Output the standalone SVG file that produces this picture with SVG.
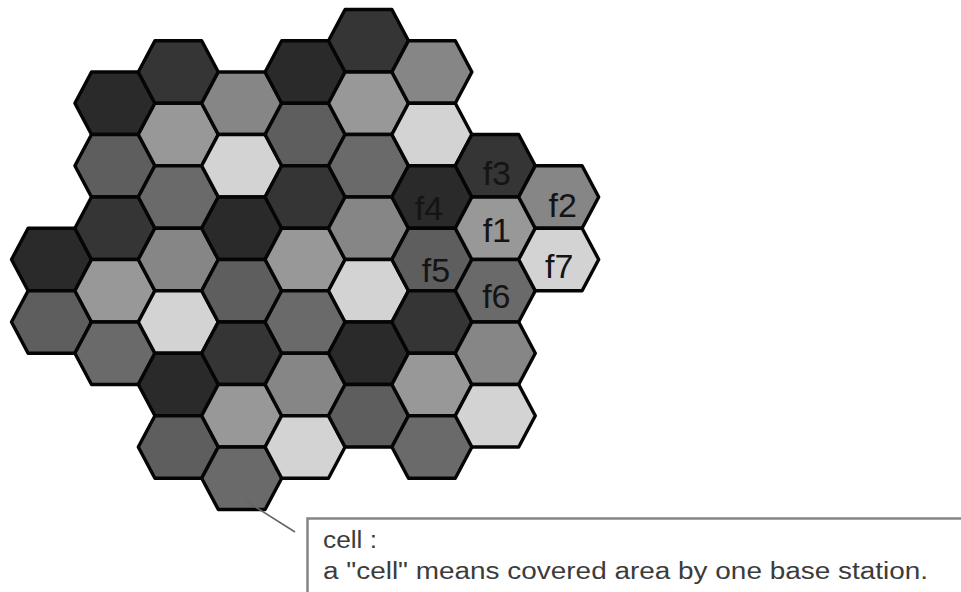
<svg xmlns="http://www.w3.org/2000/svg" xmlns:xlink="http://www.w3.org/1999/xlink" width="961" height="592" viewBox="0 0 961 592">
<style>
.h{stroke:#050505;stroke-width:3.4;stroke-linejoin:round}
.f1{fill:#989898}.f2{fill:#868686}.f3{fill:#353535}.f4{fill:#2a2a2a}
.f5{fill:#5e5e5e}.f6{fill:#6a6a6a}.f7{fill:#d3d3d3}
.lbl{font-family:"Liberation Sans",Arial,sans-serif;font-size:34px;fill:#141414;text-anchor:middle}
.note{font-family:"Liberation Sans",Arial,sans-serif;font-size:23px;fill:#3c3c3c}
</style>
<defs>
<polygon id="hex" points="-40,0 -23.4,-31.25 23.4,-31.25 40,0 23.4,31.25 -23.4,31.25"/>
</defs>
<rect width="961" height="592" fill="#fff"/>
<g id="cells">
<g id="c0k7" transform="translate(51.5,259.5)"><use xlink:href="#hex" class="h f4"/></g>
<g id="c0k9" transform="translate(51.5,322)"><use xlink:href="#hex" class="h f5"/></g>
<g id="c1k2" transform="translate(114.9,103.25)"><use xlink:href="#hex" class="h f4"/></g>
<g id="c1k4" transform="translate(114.9,165.75)"><use xlink:href="#hex" class="h f5"/></g>
<g id="c1k6" transform="translate(114.9,228.25)"><use xlink:href="#hex" class="h f3"/></g>
<g id="c1k8" transform="translate(114.9,290.75)"><use xlink:href="#hex" class="h f1"/></g>
<g id="c1k10" transform="translate(114.9,353.25)"><use xlink:href="#hex" class="h f6"/></g>
<g id="c2k1" transform="translate(178.3,72)"><use xlink:href="#hex" class="h f3"/></g>
<g id="c2k3" transform="translate(178.3,134.5)"><use xlink:href="#hex" class="h f1"/></g>
<g id="c2k5" transform="translate(178.3,197)"><use xlink:href="#hex" class="h f6"/></g>
<g id="c2k7" transform="translate(178.3,259.5)"><use xlink:href="#hex" class="h f2"/></g>
<g id="c2k9" transform="translate(178.3,322)"><use xlink:href="#hex" class="h f7"/></g>
<g id="c2k11" transform="translate(178.3,384.5)"><use xlink:href="#hex" class="h f4"/></g>
<g id="c2k13" transform="translate(178.3,447)"><use xlink:href="#hex" class="h f5"/></g>
<g id="c3k2" transform="translate(241.7,103.25)"><use xlink:href="#hex" class="h f2"/></g>
<g id="c3k4" transform="translate(241.7,165.75)"><use xlink:href="#hex" class="h f7"/></g>
<g id="c3k6" transform="translate(241.7,228.25)"><use xlink:href="#hex" class="h f4"/></g>
<g id="c3k8" transform="translate(241.7,290.75)"><use xlink:href="#hex" class="h f5"/></g>
<g id="c3k10" transform="translate(241.7,353.25)"><use xlink:href="#hex" class="h f3"/></g>
<g id="c3k12" transform="translate(241.7,415.75)"><use xlink:href="#hex" class="h f1"/></g>
<g id="c3k14" transform="translate(241.7,478.25)"><use xlink:href="#hex" class="h f6"/></g>
<g id="c4k1" transform="translate(305.1,72)"><use xlink:href="#hex" class="h f4"/></g>
<g id="c4k3" transform="translate(305.1,134.5)"><use xlink:href="#hex" class="h f5"/></g>
<g id="c4k5" transform="translate(305.1,197)"><use xlink:href="#hex" class="h f3"/></g>
<g id="c4k7" transform="translate(305.1,259.5)"><use xlink:href="#hex" class="h f1"/></g>
<g id="c4k9" transform="translate(305.1,322)"><use xlink:href="#hex" class="h f6"/></g>
<g id="c4k11" transform="translate(305.1,384.5)"><use xlink:href="#hex" class="h f2"/></g>
<g id="c4k13" transform="translate(305.1,447)"><use xlink:href="#hex" class="h f7"/></g>
<g id="c5k0" transform="translate(368.5,40.75)"><use xlink:href="#hex" class="h f3"/></g>
<g id="c5k2" transform="translate(368.5,103.25)"><use xlink:href="#hex" class="h f1"/></g>
<g id="c5k4" transform="translate(368.5,165.75)"><use xlink:href="#hex" class="h f6"/></g>
<g id="c5k6" transform="translate(368.5,228.25)"><use xlink:href="#hex" class="h f2"/></g>
<g id="c5k8" transform="translate(368.5,290.75)"><use xlink:href="#hex" class="h f7"/></g>
<g id="c5k10" transform="translate(368.5,353.25)"><use xlink:href="#hex" class="h f4"/></g>
<g id="c5k12" transform="translate(368.5,415.75)"><use xlink:href="#hex" class="h f5"/></g>
<g id="c6k1" transform="translate(431.9,72)"><use xlink:href="#hex" class="h f2"/></g>
<g id="c6k3" transform="translate(431.9,134.5)"><use xlink:href="#hex" class="h f7"/></g>
<g id="c6k5" transform="translate(431.9,197)"><use xlink:href="#hex" class="h f4"/><text class="lbl" x="-3" y="23">f4</text></g>
<g id="c6k7" transform="translate(431.9,259.5)"><use xlink:href="#hex" class="h f5"/><text class="lbl" x="4" y="22.5">f5</text></g>
<g id="c6k9" transform="translate(431.9,322)"><use xlink:href="#hex" class="h f3"/></g>
<g id="c6k11" transform="translate(431.9,384.5)"><use xlink:href="#hex" class="h f1"/></g>
<g id="c6k13" transform="translate(431.9,447)"><use xlink:href="#hex" class="h f6"/></g>
<g id="c7k4" transform="translate(495.3,165.75)"><use xlink:href="#hex" class="h f3"/><text class="lbl" x="1.5" y="19.5">f3</text></g>
<g id="c7k6" transform="translate(495.3,228.25)"><use xlink:href="#hex" class="h f1"/><text class="lbl" x="1.5" y="13.5">f1</text></g>
<g id="c7k8" transform="translate(495.3,290.75)"><use xlink:href="#hex" class="h f6"/><text class="lbl" x="1" y="17">f6</text></g>
<g id="c7k10" transform="translate(495.3,353.25)"><use xlink:href="#hex" class="h f2"/></g>
<g id="c7k12" transform="translate(495.3,415.75)"><use xlink:href="#hex" class="h f7"/></g>
<g id="c8k5" transform="translate(558.7,197)"><use xlink:href="#hex" class="h f2"/><text class="lbl" x="4" y="20">f2</text></g>
<g id="c8k7" transform="translate(558.7,259.5)"><use xlink:href="#hex" class="h f7"/><text class="lbl" x="0.5" y="18.5">f7</text></g>
</g>
<g id="connectors">
<line x1="246" y1="501" x2="295" y2="532" stroke="#666" stroke-width="1.6"/>
</g>
<g id="note">
<rect x="307.5" y="518.5" width="680" height="100" fill="#fff" stroke="#858585" stroke-width="2.5"/>
<text class="note" x="323" y="548" textLength="54" lengthAdjust="spacingAndGlyphs">cell :</text>
<text class="note" x="323" y="579" textLength="605" lengthAdjust="spacingAndGlyphs">a "cell" means covered area by one base station.</text>
</g>
</svg>
